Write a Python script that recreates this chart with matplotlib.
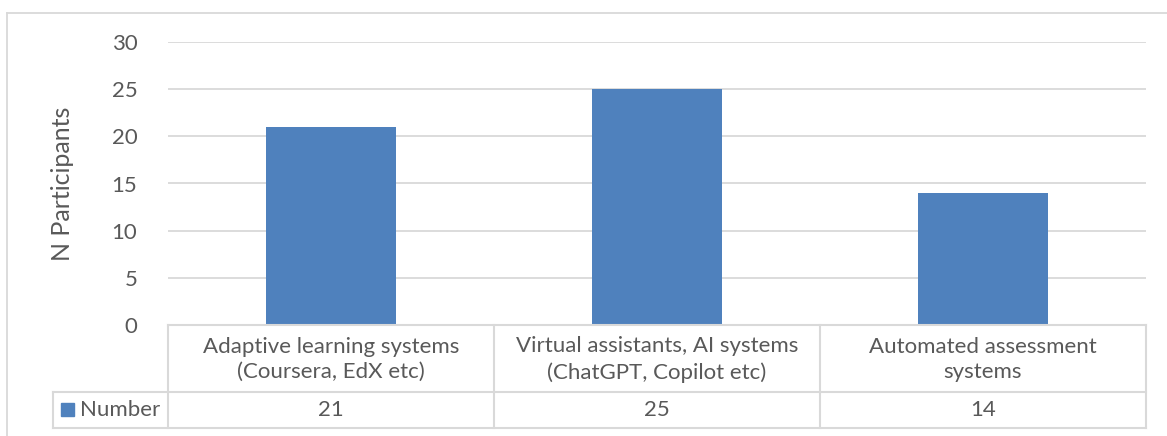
import matplotlib
matplotlib.use("Agg")
import matplotlib.pyplot as plt
from matplotlib.lines import Line2D
from matplotlib.patches import Rectangle

categories = ["Adaptive learning systems\n(Coursera, EdX etc)",
              "Virtual assistants, AI systems\n(ChatGPT, Copilot etc)",
              "Automated assessment\nsystems"]
values = [21, 25, 14]
series_name = "Number"
yticks = [0, 5, 10, 15, 20, 25, 30]

W, H = 1167, 436
bar_color = "#4F81BD"
grid_color = "#D9D9D9"
text_color = "#595959"
fs = 16
plt.rcParams['font.family'] = ['Lato', 'DejaVu Sans']

fig = plt.figure(figsize=(W / 100, H / 100), dpi=100)

def fx(px):
    return px / W

def fy(py):
    return 1 - py / H

# plot area, pixel box
x0, x1 = 168, 1146
y_top, y_bot = 42, 325
ax = fig.add_axes([fx(x0), fy(y_bot), fx(x1) - fx(x0), fy(y_top) - fy(y_bot)])
ax.set_xlim(-0.5, len(categories) - 0.5)
ax.set_ylim(0, 30)
ax.bar(range(len(values)), values, width=0.4, color=bar_color, zorder=2)
ax.set_yticks(yticks)
ax.yaxis.grid(True, color=grid_color, linewidth=1.3, zorder=0)
ax.set_xticks([])
for s in ax.spines.values():
    s.set_visible(False)
ax.tick_params(axis='y', length=0, pad=22, labelsize=fs, labelcolor=text_color)

# y axis title
fig.text(fx(62), fy(184), "N Participants", rotation=90, ha='center', va='center',
         fontsize=18, color=text_color)

# outer chart border
fig.add_artist(Line2D([fx(7), fx(W + 5)], [fy(13), fy(13)], color=grid_color, lw=1.3))
fig.add_artist(Line2D([fx(7), fx(7)], [fy(13), fy(H + 5)], color=grid_color, lw=1.3))

# data table below the axis
row1, row2, row3 = 325, 392, 428
left_cell = 53
col_edges = [x0 + (x1 - x0) * i / len(categories) for i in range(len(categories) + 1)]

def hline(xa, xb, y):
    fig.add_artist(Line2D([fx(xa), fx(xb)], [fy(y), fy(y)], color=grid_color, lw=1.5))

def vline(x, ya, yb):
    fig.add_artist(Line2D([fx(x), fx(x)], [fy(ya), fy(yb)], color=grid_color, lw=1.5))

hline(x0, x1, row1)
hline(left_cell, x1, row2)
hline(left_cell, x1, row3)
for c in col_edges:
    vline(c, row1, row3)
vline(left_cell, row2, row3)

for i, (cat, v) in enumerate(zip(categories, values)):
    cx = (col_edges[i] + col_edges[i + 1]) / 2
    fig.text(fx(cx), fy((row1 + row2) / 2 + 1), cat, ha='center', va='center',
             fontsize=fs, color=text_color, linespacing=1.35)
    fig.text(fx(cx), fy((row2 + row3) / 2), str(v), ha='center', va='center',
             fontsize=fs, color=text_color)

# legend key in the table row header
fig.add_artist(Rectangle((fx(61), fy(416)), fx(13), fy(403) - fy(416),
                         color=bar_color, transform=fig.transFigure))
fig.text(fx(80), fy((row2 + row3) / 2), series_name, ha='left', va='center',
         fontsize=fs, color=text_color)

fig.savefig("out.png", dpi=100, facecolor="white")
